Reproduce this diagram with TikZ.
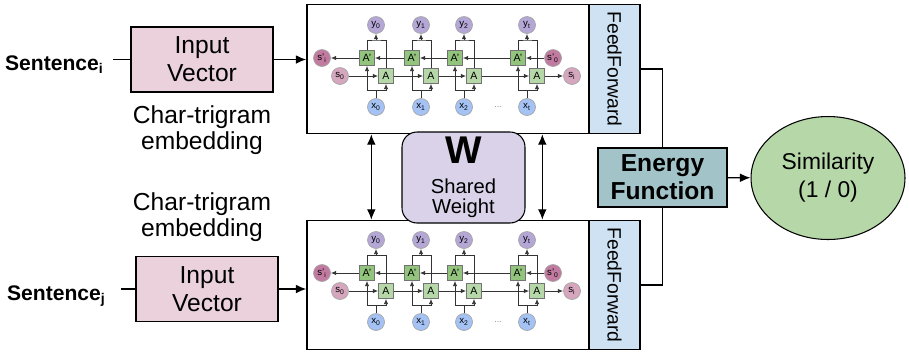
\documentclass[tikz,border=0pt]{standalone}
\usepackage{fontspec}
\usepackage{graphicx}
\setmainfont{Liberation Sans}
\usetikzlibrary{arrows.meta}
\usetikzlibrary{positioning, calc}
\usetikzlibrary{shapes.geometric}

\definecolor{inpink}{HTML}{EAD1DC}
\definecolor{ffblue}{HTML}{CFE2F3}
\definecolor{wpurple}{HTML}{D9D2E9}
\definecolor{engteal}{HTML}{A2C4C9}
\definecolor{simgreen}{HTML}{B6D7A8}
\definecolor{ypurple}{HTML}{B4A7D6}
\definecolor{xblue}{HTML}{A4C2F4}
\definecolor{sdark}{HTML}{C27BA0}
\definecolor{slight}{HTML}{D5A6BD}
\definecolor{apgreen}{HTML}{93C47D}
\definecolor{agreen}{HTML}{B6D7A8}

\begin{document}
\begin{tikzpicture}[
    x=0.02cm, y=-0.02cm,
    block/.style={draw, semithick, align=center, inner sep=0pt},
    in block/.style={block, fill=inpink, minimum width=2.84cm, minimum height=1.3cm, font=\fontsize{14}{16}\selectfont},
    frame/.style={draw, thick, minimum width=5.64cm, minimum height=2.58cm},
    ff block/.style={block, thick, fill=ffblue, minimum width=1.02cm, minimum height=2.58cm, font=\fontsize{11}{11}\selectfont},
    sent/.style={font=\fontsize{12}{13}\selectfont\bfseries, anchor=base east, inner sep=0pt},
    note/.style={align=center, font=\fontsize{14}{14.5}\selectfont},
    cell/.style={draw=black!55, minimum size=0.3cm, inner sep=0pt, font=\fontsize{6}{6}\selectfont},
    dot/.style={circle, draw=black!35, minimum size=0.34cm, inner sep=0pt, font=\fontsize{5.5}{5.5}\selectfont},
    flow/.style={-{Latex[length=3pt, width=2.5pt]}, line width=0.5pt, black!80},
    bare/.style={line width=0.5pt, black!80},
    link/.style={-{Latex[length=6pt, width=5pt]}, thick},
    both/.style={{Latex[length=6pt, width=5pt]}-{Latex[length=6pt, width=5pt]}, thick}
]
    \useasboundingbox (0,0) rectangle (909,353);

    % inputs
    \node[sent] (senti) at (104,70) {Sentence\textsubscript{i}};
    \node[sent] (sentj) at (106,300) {Sentence\textsubscript{j}};
    \node[in block] (inpt) at (202,59.5) {Input\\Vector};
    \node[in block] (inpb) at (207,289) {Input\\Vector};
    \node[note] (chart) at (202,130) {Char-trigram\\embedding};
    \node[note] (charb) at (202,217) {Char-trigram\\embedding};
    \draw[semithick] (inpt.west) -- ($(inpt.west -| senti.east)+(9,0)$);
    \draw[semithick] (inpb.west) -- ($(inpb.west -| sentj.east)+(15,0)$);

    % encoders
    \node[frame] (rnnt) at (448,69) {};
    \node[frame] (rnnb) at (448,285) {};
    \node[ff block] (fft) at (614.5,69) {\rotatebox{-90}{FeedForward}};
    \node[ff block] (ffb) at (614.5,285) {\rotatebox{-90}{FeedForward}};
    \draw[link] (inpt.east) -- (inpt.east -| rnnt.west);
    \draw[link] (inpb.east) -- (inpb.east -| rnnb.west);

    \foreach \r/\dy in {t/0, b/215} {
        \begin{scope}[shift={(0,\dy)}]
        \foreach \cx/\k [count=\i from 0] in {376/0, 421/1, 464/2, 527/t} {
            \node[dot, fill=ypurple] (y\r\i) at (\cx, 25) {y\textsubscript{\k}};
            \node[dot, fill=xblue] (x\r\i) at (\cx, 107) {x\textsubscript{\k}};
            \node[cell, fill=apgreen] (ap\r\i) at (\cx-9, 58) {A'};
            \node[cell, fill=agreen] (a\r\i) at (\cx+10, 76) {A};
            \draw[flow] (x\r\i) -- (\cx, 90) -| (ap\r\i);
            \draw[flow] (\cx, 90) -| (a\r\i);
            \draw[bare] (ap\r\i) |- (\cx, 40) -| (a\r\i);
            \draw[flow] (\cx, 40) -- (y\r\i);
        }
        \foreach \i/\j in {0/1, 1/2, 2/3} {
            \draw[flow] (a\r\i) -- (a\r\j);
            \draw[flow] (ap\r\j) -- (ap\r\i);
        }
        \node[dot, fill=sdark] (spi\r) at (322, 58) {s'\textsubscript{i}};
        \node[dot, fill=slight] (sz\r) at (340, 76) {s\textsubscript{0}};
        \node[dot, fill=sdark] (spz\r) at (553, 58) {s'\textsubscript{0}};
        \node[dot, fill=slight] (si\r) at (572, 76) {s\textsubscript{i}};
        \draw[flow] (ap\r0) -- (spi\r);
        \draw[flow] (sz\r) -- (a\r0);
        \draw[flow] (spz\r) -- (ap\r3);
        \draw[flow] (a\r3) -- (si\r);
        \node[font=\fontsize{5}{5}\selectfont, black!50] (dots\r) at (498,107) {...};
        \end{scope}
    }

    % shared weight
    \node[block, fill=wpurple, rounded corners=0.3cm, minimum width=2.46cm, minimum height=1.82cm,
          font=\fontsize{11.5}{11.5}\selectfont] (w) at (463.5,177.5)
          {{\fontsize{22}{22}\selectfont\bfseries W}\\[5.5pt]Shared\\Weight};
    \draw[both] ($(rnnt.south west)+(65,0)$) -- ($(rnnb.north west)+(65,0)$);
    \draw[both] ($(rnnt.south west)+(236,0)$) -- ($(rnnb.north west)+(236,0)$);

    % output
    \node[block, fill=engteal, minimum width=2.58cm, minimum height=1.18cm,
          font=\fontsize{14}{16}\selectfont\bfseries] (energy) at (662.5,177.5) {Energy\\Function};
    \node[ellipse, draw, semithick, fill=simgreen, minimum width=3.08cm, minimum height=2.46cm,
          align=center, font=\fontsize{13}{16}\selectfont] (sim) at (828,178) {Similarity\\(1 / 0)};
    \draw[semithick] (fft.east) -| (energy.north);
    \draw[semithick] (ffb.east) -| (energy.south);
    \draw[link] (energy) -- (sim);
\end{tikzpicture}
\end{document}
